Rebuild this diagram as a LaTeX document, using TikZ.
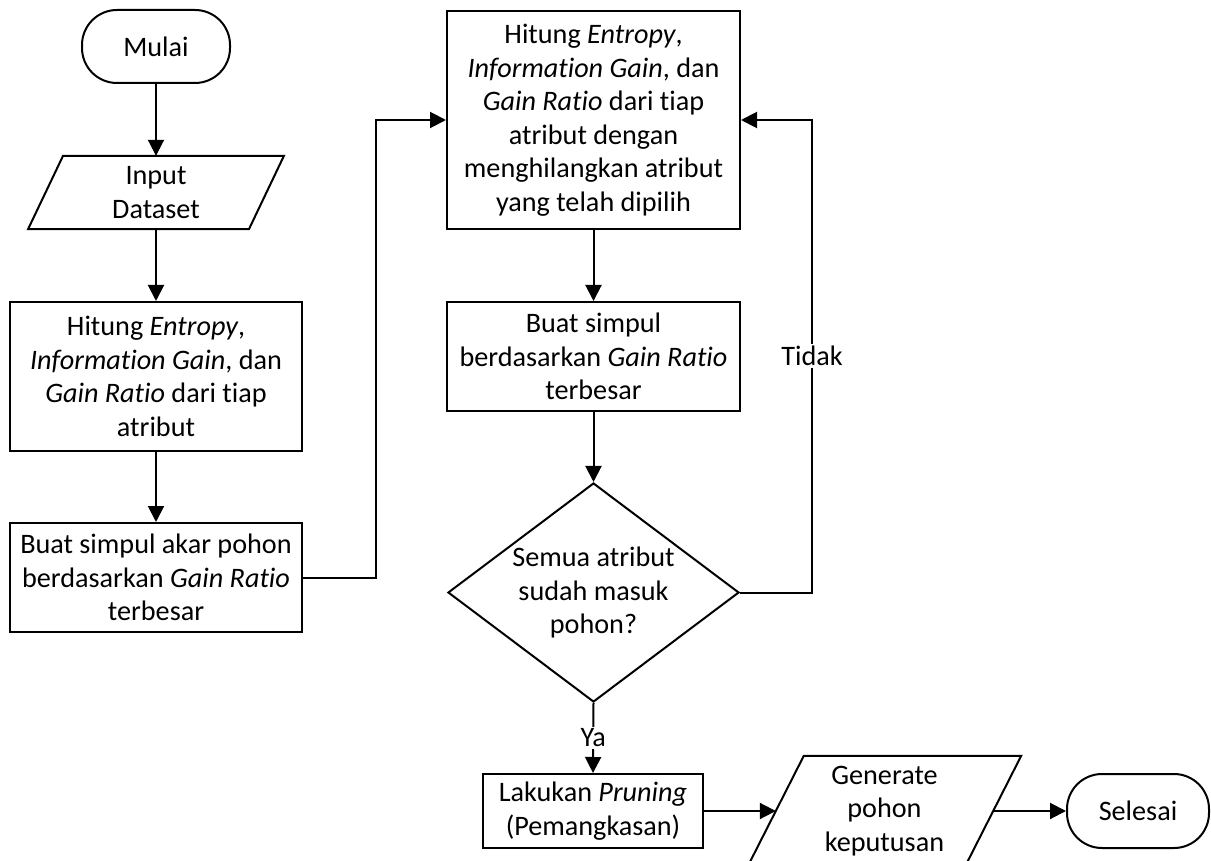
\documentclass[tikz,border=0pt]{standalone}
\usepackage{fontspec}
\setmainfont{Carlito}[Ligatures={NoCommon}]
\usetikzlibrary{arrows.meta,shapes.geometric,calc}
\begin{document}
\begin{tikzpicture}[x=1pt,y=-1pt,
  every node/.style={font=\fontsize{28.2}{33.5}\selectfont, align=center},
  ln/.style={line width=2pt},
  arr/.style={ln,-{Triangle[width=16pt,length=16pt]}},
  proc/.style={draw, ln, rectangle, inner sep=0pt},
  term/.style={draw, ln, rectangle, rounded corners=35pt, inner sep=0pt},
  io/.style={draw=none, rectangle, inner sep=0pt},
  dec/.style={draw, ln, diamond, aspect=1.33, inner sep=0pt, minimum width=291pt, minimum height=219pt},
  lbl/.style={fill=white, inner sep=2pt}]
\useasboundingbox (0,0) rectangle (1211,861);
\clip (0,0) rectangle (1211,861);

\node[term, minimum width=148pt, minimum height=73pt] (mulai) at (156,46.5) {Mulai};
\node[io, minimum width=220.5pt, minimum height=73pt] (input) at (156,192.5) {Input\\Dataset};
\draw[ln] ([xshift=-17.5pt]input.south west) -- ([xshift=17.5pt]input.north west)
  -- ([xshift=17.5pt]input.north east) -- ([xshift=-17.5pt]input.south east) -- cycle;
\node[proc, minimum width=292pt, minimum height=149pt] (h1) at (156,376.5)
  {Hitung \textit{Entropy},\\\textit{Information Gain}, dan\\\textit{Gain Ratio} dari tiap\\atribut};
\node[proc, minimum width=292pt, minimum height=109pt] (b1) at (156,577.5)
  {Buat simpul akar pohon\\berdasarkan \textit{Gain Ratio}\\terbesar};

\node[proc, minimum width=293pt, minimum height=218pt] (h2) at (593.5,120)
  {Hitung \textit{Entropy},\\\textit{Information Gain}, dan\\\textit{Gain Ratio} dari tiap\\atribut dengan\\menghilangkan atribut\\yang telah dipilih};
\node[proc, minimum width=293pt, minimum height=109pt] (b2) at (593.5,356.5)
  {Buat simpul\\berdasarkan \textit{Gain Ratio}\\terbesar};
\node[dec] (d) at (593.5,592.5) {Semua atribut\\sudah masuk\\pohon?};
\node[proc, minimum width=220pt, minimum height=74pt] (pr) at (593,811)
  {Lakukan \textit{Pruning}\\(Pemangkasan)};
\node[io, minimum width=217pt, minimum height=110pt] (gen) at (884.5,811) {Generate\\pohon\\keputusan};
\draw[ln] ([xshift=-28pt]gen.south west) -- ([xshift=28pt]gen.north west)
  -- ([xshift=28pt]gen.north east) -- ([xshift=-28pt]gen.south east) -- cycle;
\node[term, minimum width=142pt, minimum height=74pt] (sel) at (1138,811) {Selesai};

\coordinate (tk) at (812,592.5);

\draw[arr] (mulai) -- (input.north);
\draw[arr] (input.south) -- (h1);
\draw[arr] (h1) -- (b1);
\draw[arr] (b1.east) -- ++(72.5,0) |- (h2.west);
\draw[arr] (h2) -- (b2);
\draw[arr] (b2) -- (d);
\draw[arr] (d.east) -- (tk) |- node[lbl, pos=0.25] {Tidak} (h2.east);
\draw[arr] (d.south) -- node[lbl, midway] {Ya} (pr.north);
\draw[arr] (pr.east) -- (gen.west);
\draw[arr] (gen.east) -- (sel.west);
\end{tikzpicture}
\end{document}
